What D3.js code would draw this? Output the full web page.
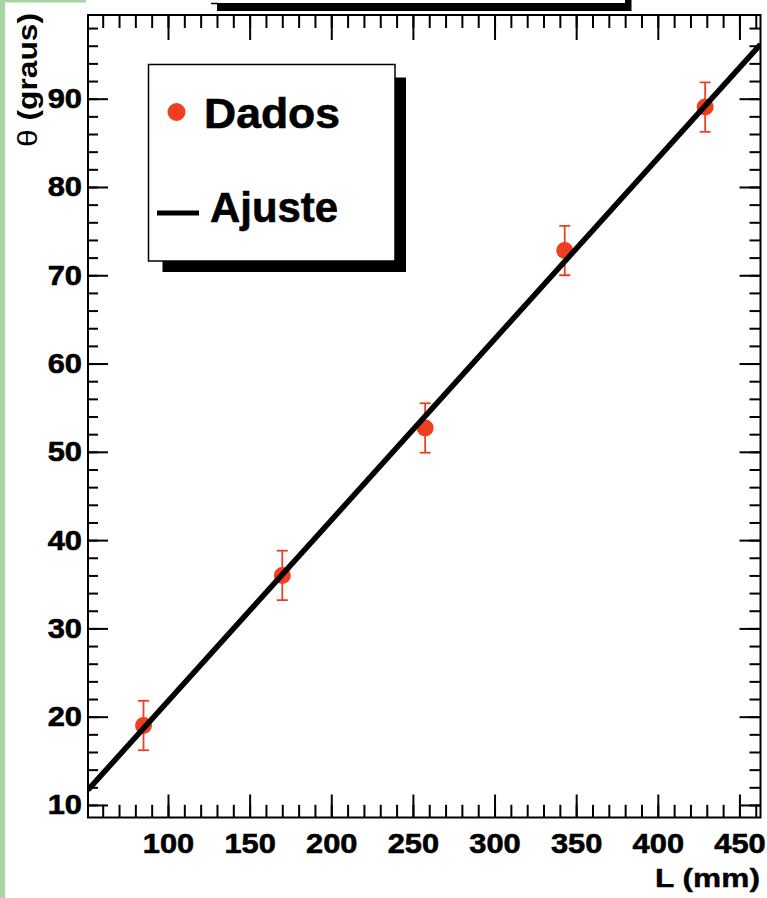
<!DOCTYPE html>
<html><head><meta charset="utf-8">
<script src="https://cdn.jsdelivr.net/npm/d3@7"></script>
<style>
body{margin:0;background:#fff}
svg{display:block}
text{font-family:"Liberation Sans",Arial,Helvetica,sans-serif;font-weight:bold;fill:#000}
</style>
</head><body>
<svg id="c" width="767" height="898"></svg>
<script>
// ---- data ----
const L = [85, 170, 257.5, 343, 429];
const theta = [19.0, 36.0, 52.7, 72.8, 89.05];
const thetaErr = [2.8, 2.8, 2.8, 2.8, 2.8];
const fitParams = [1.25, 0.205]; // theta = p0 + p1 * L
const xTicks = [100, 150, 200, 250, 300, 350, 400, 450];
const yTicks = [10, 20, 30, 40, 50, 60, 70, 80, 90];
const xMinorTicks = d3.range(60, 461, 10);
const yMinorTicks = d3.range(10, 99.5, 2);
const legendLabels = ["Dados", "Ajuste"];
const xTitle = "L (mm)";
const yTitleSym = "θ";
const yTitleText = " (graus)";

const svg = d3.select("#c");
const red = "#ef3f1f";
const F = {left: 88, top: 15, right: 760.5, bottom: 817.5};
const x = d3.scaleLinear().domain([51.0, 462.9]).range([F.left, F.right]);
const y = d3.scaleLinear().domain([8.58, 99.48]).range([F.bottom, F.top]);

// page decoration
svg.append("rect").attr("x",0).attr("y",0).attr("width",767).attr("height",898).attr("fill","#fff");
svg.append("rect").attr("x",0).attr("y",0).attr("width",5).attr("height",898).attr("fill","#a7d6a5");
svg.append("rect").attr("x",0).attr("y",0).attr("width",86).attr("height",2.5).attr("fill","#a7d6a5");
// title box remnant at top
svg.append("rect").attr("x",217).attr("y",3).attr("width",414).attr("height",8).attr("fill","#000");
svg.append("rect").attr("x",625).attr("y",0).attr("width",6.5).attr("height",11).attr("fill","#000");
svg.append("line").attr("x1",211).attr("x2",218).attr("y1",3.5).attr("y2",3.5).attr("stroke","#000").attr("stroke-width",1.5);

const defs = svg.append("defs");
defs.append("clipPath").attr("id","clip").append("rect")
  .attr("x",F.left).attr("y",F.top).attr("width",F.right-F.left).attr("height",F.bottom-F.top);

const plot = svg.append("g").attr("clip-path","url(#clip)");
const pts = L.map((l,i)=>({l, t: theta[i], e: thetaErr[i]}));

// error bars
const eb = plot.append("g").attr("stroke",red).attr("stroke-width",1.8).attr("fill","none");
pts.forEach(p=>{
  const cx = x(p.l);
  eb.append("line").attr("x1",cx).attr("x2",cx).attr("y1",y(p.t+p.e)).attr("y2",y(p.t-p.e));
  eb.append("line").attr("x1",cx-5.5).attr("x2",cx+5.5).attr("y1",y(p.t+p.e)).attr("y2",y(p.t+p.e));
  eb.append("line").attr("x1",cx-5.5).attr("x2",cx+5.5).attr("y1",y(p.t-p.e)).attr("y2",y(p.t-p.e));
});
// markers
plot.append("g").selectAll("circle").data(pts).join("circle")
  .attr("cx",d=>x(d.l)).attr("cy",d=>y(d.t)).attr("r",8.5).attr("fill",red);

// fit line
const xd = x.domain();
const fitPts = xd.map(l=>({l, t: fitParams[0]+fitParams[1]*l}));
plot.append("path").datum(fitPts)
  .attr("d", d3.line().x(d=>x(d.l)).y(d=>y(d.t)))
  .attr("stroke","#000").attr("stroke-width",5.5).attr("fill","none");

// axes
function styleAxis(g){
  g.select(".domain").remove();
  g.selectAll(".tick line").attr("stroke","#000").attr("stroke-width",2);
  g.selectAll("text").attr("font-size",28).attr("font-family",'"Liberation Sans",Arial,sans-serif')
    .attr("font-weight","bold").attr("fill","#000").attr("stroke","#000").attr("stroke-width",0.6);
}
svg.append("g").attr("transform",`translate(0,${F.bottom})`)
  .call(d3.axisBottom(x).tickValues(xMinorTicks).tickSize(-12.7).tickFormat("")).call(styleAxis);
svg.append("g").attr("transform",`translate(0,${F.bottom})`)
  .call(d3.axisBottom(x).tickValues(xTicks).tickSize(-23).tickPadding(15.5).tickFormat(d3.format("d"))).call(styleAxis);
svg.append("g").attr("transform",`translate(0,${F.top})`)
  .call(d3.axisTop(x).tickValues(xMinorTicks).tickSize(-13).tickFormat("")).call(styleAxis);
svg.append("g").attr("transform",`translate(0,${F.top})`)
  .call(d3.axisTop(x).tickValues(xTicks).tickSize(-25).tickFormat("")).call(styleAxis);
svg.append("g").attr("transform",`translate(${F.left},0)`)
  .call(d3.axisLeft(y).tickValues(yMinorTicks).tickSize(-10).tickFormat("")).call(styleAxis);
svg.append("g").attr("transform",`translate(${F.left},0)`)
  .call(d3.axisLeft(y).tickValues(yTicks).tickSize(-20).tickPadding(6).tickFormat(d3.format("d"))).call(styleAxis);
svg.append("g").attr("transform",`translate(${F.right},0)`)
  .call(d3.axisRight(y).tickValues(yMinorTicks).tickSize(-11).tickFormat("")).call(styleAxis);
svg.append("g").attr("transform",`translate(${F.right},0)`)
  .call(d3.axisRight(y).tickValues(yTicks).tickSize(-21).tickFormat("")).call(styleAxis);

// widen tick labels slightly (original glyphs are a bit wider)
svg.selectAll(".tick text").each(function(){
  const w = this.getComputedTextLength();
  if (w>0){ this.setAttribute("textLength", (w*1.1).toFixed(1)); this.setAttribute("lengthAdjust","spacingAndGlyphs"); }
});

// frame
svg.append("rect").attr("x",F.left).attr("y",F.top).attr("width",F.right-F.left).attr("height",F.bottom-F.top)
  .attr("fill","none").attr("stroke","#000").attr("stroke-width",2);

// axis titles
svg.append("text").attr("x",760).attr("y",887).attr("text-anchor","end").attr("font-size",25)
  .attr("stroke","#000").attr("stroke-width",0.4)
  .attr("textLength",105).attr("lengthAdjust","spacingAndGlyphs").text(xTitle);
const yt = svg.append("text").attr("transform","translate(37,13) rotate(-90)").attr("text-anchor","end")
  .attr("font-size",27).attr("textLength",134).attr("lengthAdjust","spacingAndGlyphs");
yt.append("tspan").attr("font-weight","normal").text(yTitleSym);
yt.append("tspan").text(yTitleText);

// legend
const lg = svg.append("g");
lg.append("rect").attr("x",162.5).attr("y",77.5).attr("width",243.5).attr("height",194.5).attr("fill","#000");
lg.append("rect").attr("x",148.5).attr("y",64.5).attr("width",246.5).attr("height",196.5)
  .attr("fill","#fff").attr("stroke","#000").attr("stroke-width",1.5);
lg.append("circle").attr("cx",176.5).attr("cy",112).attr("r",9).attr("fill",red);
lg.append("line").attr("x1",157).attr("x2",199).attr("y1",213).attr("y2",213).attr("stroke","#000").attr("stroke-width",5);
lg.append("text").attr("x",204).attr("y",128).attr("font-size",42).attr("stroke","#000").attr("stroke-width",0.6)
  .attr("textLength",136).attr("lengthAdjust","spacingAndGlyphs").text(legendLabels[0]);
lg.append("text").attr("x",210).attr("y",222).attr("font-size",42).attr("stroke","#000").attr("stroke-width",0.6)
  .attr("textLength",128).attr("lengthAdjust","spacingAndGlyphs").text(legendLabels[1]);
</script>
</body></html>
